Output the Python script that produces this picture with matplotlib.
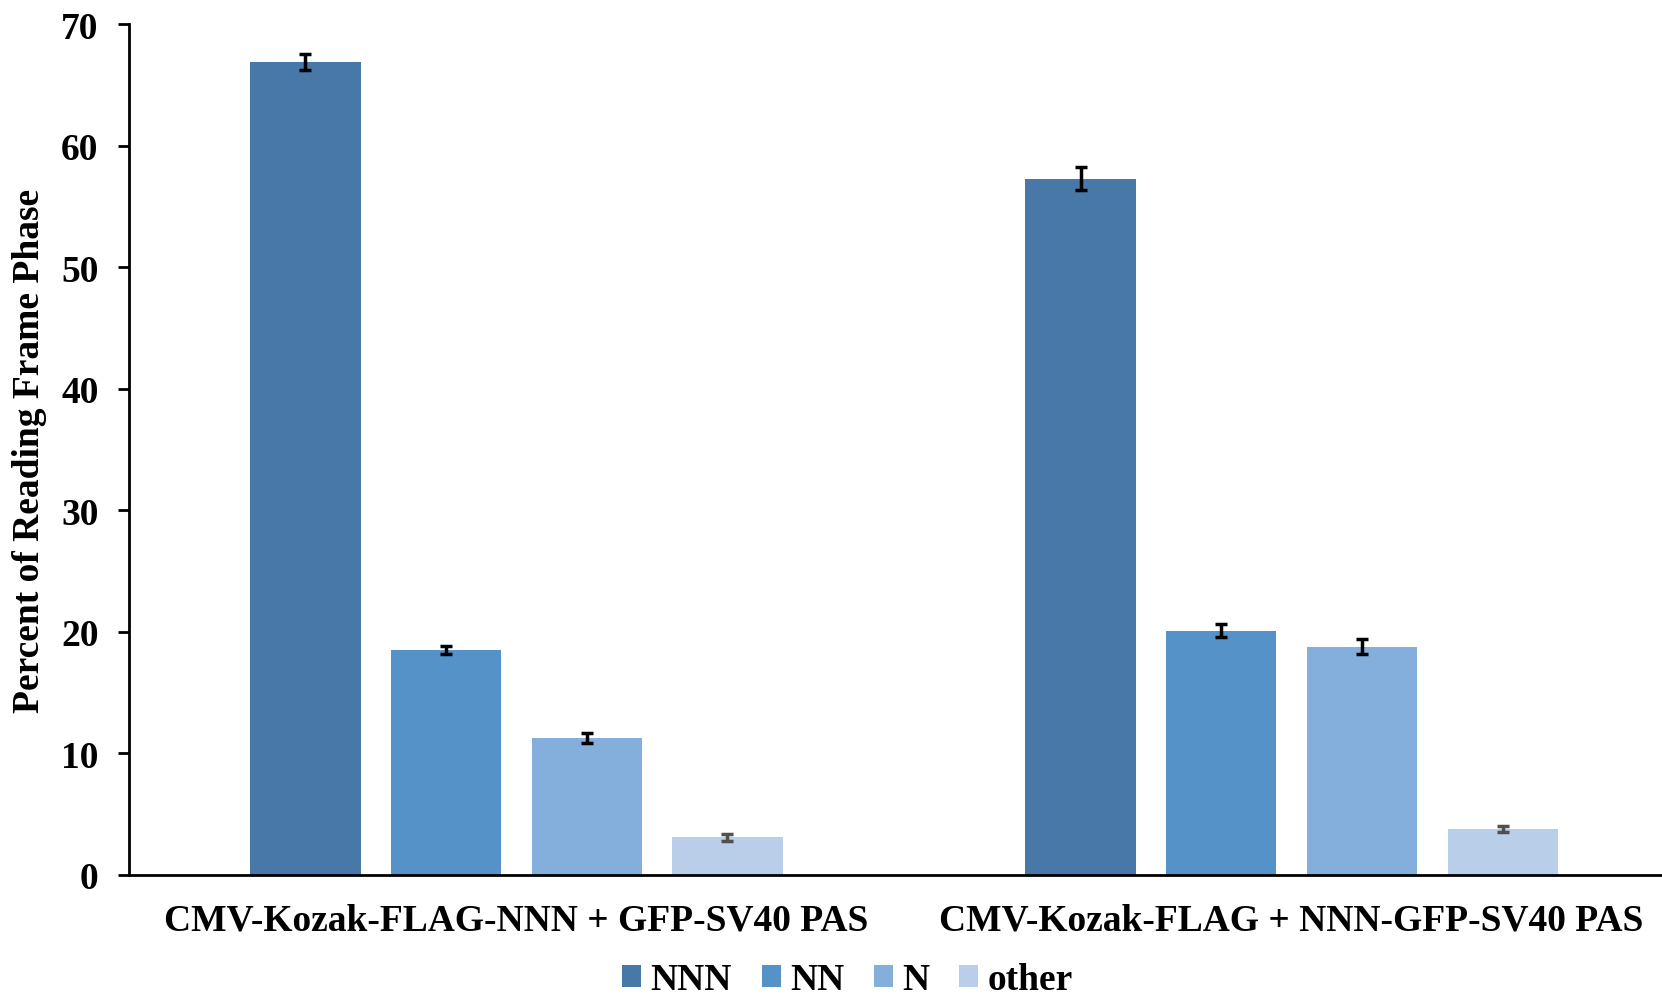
import numpy as np
import matplotlib
matplotlib.use('Agg')
import matplotlib.pyplot as plt

# Reading frame phase percentages per construct
constructs = ['CMV-Kozak-FLAG-NNN + GFP-SV40 PAS', 'CMV-Kozak-FLAG + NNN-GFP-SV40 PAS']
phases = ['NNN', 'NN', 'N', 'other']
values = {
    'NNN': [66.9, 57.3],
    'NN': [18.5, 20.1],
    'N': [11.3, 18.8],
    'other': [3.1, 3.8],
}
errors = {
    'NNN': [0.65, 0.95],
    'NN': [0.35, 0.55],
    'N': [0.4, 0.65],
    'other': [0.3, 0.25],
}
colors = ['#4778a8', '#5492c7', '#84aedb', '#b8cee9']
err_colors = ['black', 'black', 'black', '#505050']

plt.rcParams['font.family'] = ['Liberation Serif', 'DejaVu Serif']
plt.rcParams['font.weight'] = 'bold'

fig = plt.figure(figsize=(16.62, 10.04), dpi=100)
ax = fig.add_axes([0.0776, 0.1275, 0.9224, 0.8472])

x = np.arange(len(constructs))
width = 0.142
pitch = 0.1815
for i, ph in enumerate(phases):
    pos = x + (i - 1.5) * pitch
    ax.bar(pos, values[ph], width=width, color=colors[i], label=ph, zorder=2)
    ax.errorbar(pos, values[ph], yerr=errors[ph], fmt='none', ecolor=err_colors[i],
                elinewidth=2.5, capsize=4.3, capthick=2.5, zorder=3)

ax.set_xlim(-0.5, 1.478)
ax.set_ylim(0, 70)
ax.set_yticks(range(0, 71, 10))
ax.set_xticks(x)
ax.set_xticklabels(constructs, fontsize=27, fontweight='bold')
ax.tick_params(axis='x', length=0, pad=20)
ax.tick_params(axis='y', labelsize=27, width=2, length=8, direction='out', pad=14)
for lbl in ax.get_yticklabels():
    lbl.set_fontweight('bold')

ax.set_ylabel('Percent of Reading Frame Phase', fontsize=27, fontweight='bold', labelpad=10)

for side in ['top', 'right']:
    ax.spines[side].set_visible(False)
for side in ['left', 'bottom']:
    ax.spines[side].set_linewidth(2)

leg = fig.legend(loc='lower center', bbox_to_anchor=(0.51, -0.028), ncol=4, frameon=False,
                 prop={'size': 27, 'weight': 'bold'}, handlelength=0.5, handleheight=0.5,
                 handletextpad=0.25, columnspacing=0.8)

fig.savefig('out.png', dpi=100)
